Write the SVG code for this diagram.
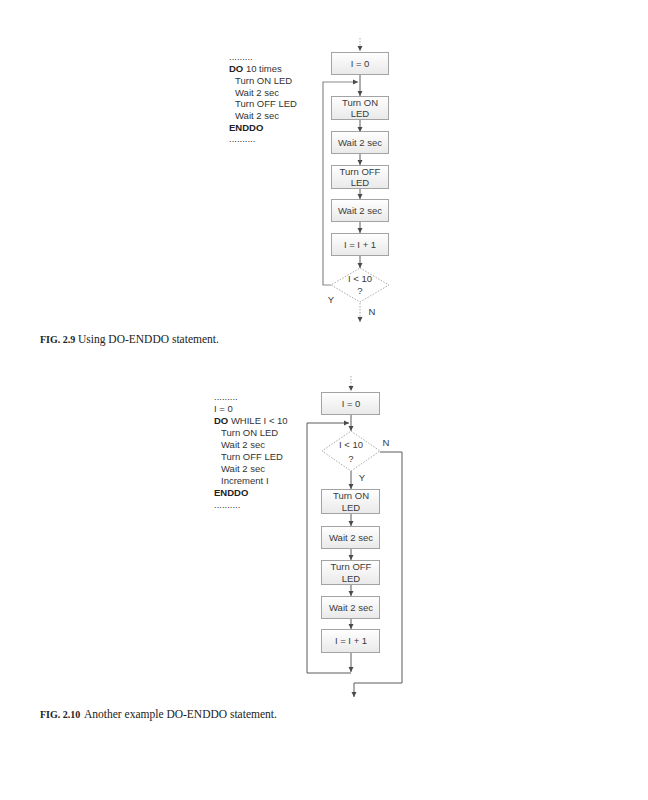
<svg xmlns="http://www.w3.org/2000/svg" width="648" height="800" viewBox="0 0 648 800">
<style>
.bg{fill:#fff}
.box{fill:url(#g);stroke:#a3a3a3;stroke-width:1}
.dia{fill:#fff;stroke:#aaa;stroke-width:1;stroke-dasharray:1.5 1.5}
.t{font-family:"Liberation Sans",Arial,sans-serif;font-size:9.5px;fill:#3a3a3a;text-anchor:middle}
.c{font-family:"Liberation Sans",Arial,sans-serif;font-size:9.5px;fill:#333}
.b{font-weight:bold;fill:#222}
.cap{font-family:"Liberation Serif","Times New Roman",serif;font-size:11.5px;fill:#222}
.fig{font-size:10px;font-weight:bold}
.ln{fill:none;stroke:#5a5a5a;stroke-width:1}
.lnl{fill:none;stroke:#8a8a8a;stroke-width:1.2}
.dash{fill:none;stroke:#aaa;stroke-width:1;stroke-dasharray:1.5 1.5}
</style>
<defs>
<linearGradient id="g" x1="0" y1="0" x2="0" y2="1">
<stop offset="0" stop-color="#ffffff"/>
<stop offset="1" stop-color="#e9e9e9"/>
</linearGradient>
<marker id="a" markerUnits="userSpaceOnUse" markerWidth="6" markerHeight="6" refX="5" refY="3" orient="auto">
<path d="M0,0.5 L5,3 L0,5.5 z" fill="#4a4a4a"/>
</marker>
</defs>
<rect class="bg" x="0" y="0" width="648" height="800"/>

<!-- Figure 2.9 code -->
<g id="code1">
<text class="c" x="229" y="60">.........</text>
<text class="c" x="229" y="72"><tspan class="b">DO</tspan> 10 times</text>
<text class="c" x="235" y="84">Turn ON LED</text>
<text class="c" x="235" y="96">Wait 2 sec</text>
<text class="c" x="235" y="107">Turn OFF LED</text>
<text class="c" x="235" y="119">Wait 2 sec</text>
<text class="c b" x="229" y="131">ENDDO</text>
<text class="c" x="229" y="142">..........</text>
</g>

<g id="connectors1">
<line class="dash" x1="360" y1="38" x2="360" y2="51" marker-end="url(#a)"/>
<line class="ln" x1="360" y1="75" x2="360" y2="96" marker-end="url(#a)"/>
<polyline class="lnl" points="331,285 323,285 323,82 358,82" marker-end="url(#a)"/>
<line class="ln" x1="360" y1="120" x2="360" y2="132" marker-end="url(#a)"/>
<line class="ln" x1="360" y1="153" x2="360" y2="165" marker-end="url(#a)"/>
<line class="ln" x1="360" y1="189" x2="360" y2="199" marker-end="url(#a)"/>
<line class="ln" x1="360" y1="222" x2="360" y2="233" marker-end="url(#a)"/>
<line class="ln" x1="360" y1="256" x2="360" y2="268" marker-end="url(#a)"/>
<line class="dash" x1="360" y1="303" x2="360" y2="322" marker-end="url(#a)"/>
<text class="t" x="331" y="303">Y</text>
<text class="t" x="372" y="315">N</text>
</g>

<g id="f1_init"><rect class="box" x="331.5" y="52.5" width="57" height="22"/><text class="t" x="360" y="67">I = 0</text></g>
<g id="f1_on"><rect class="box" x="331.5" y="96.5" width="57" height="23"/><text class="t" x="360" y="106">Turn ON</text><text class="t" x="360" y="117">LED</text></g>
<g id="f1_wait1"><rect class="box" x="331.5" y="131.5" width="57" height="22"/><text class="t" x="360" y="146">Wait 2 sec</text></g>
<g id="f1_off"><rect class="box" x="331.5" y="165.5" width="57" height="23"/><text class="t" x="360" y="175">Turn OFF</text><text class="t" x="360" y="186">LED</text></g>
<g id="f1_wait2"><rect class="box" x="331.5" y="199.5" width="57" height="22"/><text class="t" x="360" y="214">Wait 2 sec</text></g>
<g id="f1_inc"><rect class="box" x="331.5" y="233.5" width="57" height="22"/><text class="t" x="360" y="248">I = I + 1</text></g>
<g id="f1_test"><polygon class="dia" points="360,268 389,285 360,302 331,285"/><text class="t" x="360" y="282">I &lt; 10</text><text class="t" x="360" y="294">?</text></g>

<g id="cap1"><text class="cap" x="40" y="343"><tspan class="fig">FIG. 2.9</tspan><tspan x="78">Using DO-ENDDO statement.</tspan></text></g>

<!-- Figure 2.10 code -->
<g id="code2">
<text class="c" x="214" y="400">.........</text>
<text class="c" x="214" y="412">I = 0</text>
<text class="c" x="214" y="424"><tspan class="b">DO</tspan> WHILE I &lt; 10</text>
<text class="c" x="221" y="436">Turn ON LED</text>
<text class="c" x="221" y="448">Wait 2 sec</text>
<text class="c" x="221" y="460">Turn OFF LED</text>
<text class="c" x="221" y="472">Wait 2 sec</text>
<text class="c" x="221" y="484">Increment I</text>
<text class="c b" x="214" y="496">ENDDO</text>
<text class="c" x="214" y="508">..........</text>
</g>

<g id="connectors2">
<line class="dash" x1="351" y1="376" x2="351" y2="391" marker-end="url(#a)"/>
<line class="ln" x1="351" y1="415" x2="351" y2="431" marker-end="url(#a)"/>
<polyline class="ln" points="351,673 307,673 307,423 349,423" marker-end="url(#a)"/>
<line class="ln" x1="351" y1="652" x2="351" y2="672" marker-end="url(#a)"/>
<line class="ln" x1="351" y1="471" x2="351" y2="489" marker-end="url(#a)"/>
<line class="ln" x1="351" y1="514" x2="351" y2="526" marker-end="url(#a)"/>
<line class="ln" x1="351" y1="548" x2="351" y2="560" marker-end="url(#a)"/>
<line class="ln" x1="351" y1="584" x2="351" y2="596" marker-end="url(#a)"/>
<line class="ln" x1="351" y1="618" x2="351" y2="629" marker-end="url(#a)"/>
<polyline class="ln" points="380,452 402,452 402,683 354,683 354,697" marker-end="url(#a)"/>
<text class="t" x="386" y="446">N</text>
<text class="t" x="362" y="481">Y</text>
</g>

<g id="f2_init"><rect class="box" x="321.5" y="392.5" width="58" height="22"/><text class="t" x="351" y="407">I = 0</text></g>
<g id="f2_test"><polygon class="dia" points="351,431 380,451 351,471 322,451"/><text class="t" x="351" y="448">I &lt; 10</text><text class="t" x="351" y="462">?</text></g>
<g id="f2_on"><rect class="box" x="321.5" y="489.5" width="58" height="24"/><text class="t" x="351" y="499">Turn ON</text><text class="t" x="351" y="511">LED</text></g>
<g id="f2_wait1"><rect class="box" x="321.5" y="526.5" width="58" height="22"/><text class="t" x="351" y="541">Wait 2 sec</text></g>
<g id="f2_off"><rect class="box" x="321.5" y="560.5" width="58" height="24"/><text class="t" x="351" y="570">Turn OFF</text><text class="t" x="351" y="582">LED</text></g>
<g id="f2_wait2"><rect class="box" x="321.5" y="596.5" width="58" height="22"/><text class="t" x="351" y="611">Wait 2 sec</text></g>
<g id="f2_inc"><rect class="box" x="321.5" y="629.5" width="58" height="23"/><text class="t" x="351" y="644">I = I + 1</text></g>

<g id="cap2"><text class="cap" x="40" y="718"><tspan class="fig">FIG. 2.10</tspan><tspan x="84">Another example DO-ENDDO statement.</tspan></text></g>
</svg>
